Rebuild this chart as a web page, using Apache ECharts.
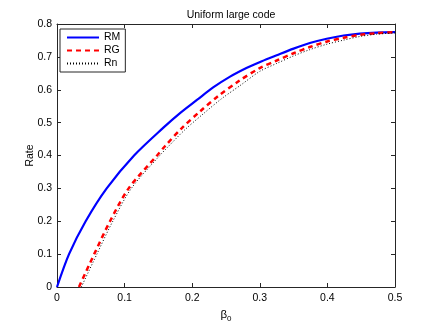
<!DOCTYPE html>
<html>
<head>
<meta charset="utf-8">
<script src="https://cdn.jsdelivr.net/npm/echarts@6/dist/echarts.min.js"></script>
<style>
  html, body { margin: 0; padding: 0; background: #fff; }
  #chart { width: 436px; height: 328px; }
</style>
</head>
<body>
<div id="chart"></div>
<script>
// values
const xTicks = [0, 0.1, 0.2, 0.3, 0.4, 0.5];
const yTicks = [0, 0.1, 0.2, 0.3, 0.4, 0.5, 0.6, 0.7, 0.8];

const betaRM = [0, 0.0178, 0.0424, 0.0735, 0.114, 0.157, 0.182, 0.207, 0.231, 0.256, 0.281, 0.303, 0.325, 0.35, 0.374, 0.399, 0.424, 0.448, 0.473, 0.5];
const rateRM = [0, 0.1, 0.2, 0.3, 0.4, 0.484, 0.529, 0.569, 0.607, 0.640, 0.667, 0.687, 0.705, 0.725, 0.742, 0.755, 0.765, 0.771, 0.774, 0.775];

const betaRG = [0.0325, 0.055, 0.0784, 0.106, 0.148, 0.160, 0.184, 0.2115, 0.238, 0.268, 0.300, 0.325, 0.35, 0.374, 0.4, 0.424, 0.448, 0.473, 0.5];
const rateRG = [0, 0.1, 0.2, 0.3, 0.4, 0.429, 0.482, 0.534, 0.580, 0.625, 0.666, 0.689, 0.711, 0.730, 0.747, 0.758, 0.767, 0.772, 0.775];

const betaRn = [0.036, 0.059, 0.0825, 0.110, 0.152, 0.165, 0.189, 0.2165, 0.243, 0.273, 0.300, 0.325, 0.35, 0.374, 0.4, 0.424, 0.448, 0.473, 0.5];
const rateRn = [0, 0.1, 0.2, 0.3, 0.4, 0.428, 0.478, 0.527, 0.572, 0.616, 0.656, 0.680, 0.703, 0.722, 0.739, 0.751, 0.762, 0.769, 0.773];

const names = ['RM', 'RG', 'Rn'];

function pairs(xs, ys) {
  return xs.map((x, i) => [x, ys[i]]);
}

const chart = echarts.init(document.getElementById('chart'));
const fontName = 'Liberation Sans';
const frame = '#262626';
const fs = 10.5;

const baseAxis = {
  type: 'value',
  axisLine: { show: true, onZero: false, lineStyle: { color: frame, width: 1 } },
  axisTick: { show: true, inside: true, length: 4, lineStyle: { color: frame } },
  splitLine: { show: false },
};

chart.setOption({
  animation: false,
  backgroundColor: '#fff',
  textStyle: { fontFamily: fontName },
  title: {
    text: 'Uniform large code',
    left: 226, top: 5, textAlign: 'center',
    textStyle: { fontSize: fs, fontWeight: 'normal', color: '#000', fontFamily: fontName }
  },
  grid: { left: 57, right: 41, top: 24, bottom: 37, containLabel: false },
  legend: {
    data: names,
    orient: 'vertical',
    left: 60, top: 29,
    padding: [3, 5, 3, 6],
    itemGap: 2,
    itemWidth: 32,
    itemHeight: 10,
    backgroundColor: '#fff',
    borderColor: frame,
    borderWidth: 1,
    itemStyle: { opacity: 0, borderWidth: 0 },
    textStyle: { fontSize: fs, color: '#000', fontFamily: fontName }
  },
  xAxis: [
    Object.assign({}, baseAxis, {
      min: xTicks[0], max: xTicks[xTicks.length - 1], interval: 0.1,
      position: 'bottom',
      axisLabel: { color: '#000', fontSize: fs, margin: 6, fontFamily: fontName },
      name: '{b|β}{s|0}',
      nameLocation: 'middle', nameGap: 20, nameMoveOverlap: false,
      nameTextStyle: {
        rich: {
          b: { fontSize: 11.5, color: '#000', fontFamily: fontName },
          s: { fontSize: 8, color: '#000', fontFamily: fontName, verticalAlign: 'bottom', padding: [8, 0, 0, 0] }
        }
      }
    }),
    Object.assign({}, baseAxis, {
      min: 0, max: 0.5, interval: 0.1, position: 'top',
      axisLabel: { show: false }
    })
  ],
  yAxis: [
    Object.assign({}, baseAxis, {
      min: yTicks[0], max: yTicks[yTicks.length - 1], interval: 0.1,
      position: 'left',
      axisLabel: { color: '#000', fontSize: fs, margin: 5, fontFamily: fontName },
      name: 'Rate', nameLocation: 'middle', nameGap: 21, nameRotate: 90, nameMoveOverlap: false,
      nameTextStyle: { fontSize: fs, color: '#000', fontFamily: fontName }
    }),
    Object.assign({}, baseAxis, {
      min: 0, max: 0.8, interval: 0.1, position: 'right',
      axisLabel: { show: false }
    })
  ],
  series: [
    {
      name: names[0], type: 'line', showSymbol: false, symbol: 'none',
      smooth: 0.3,
      lineStyle: { color: '#0000ff', width: 2.2, type: 'solid' },
      itemStyle: { color: '#0000ff' },
      data: pairs(betaRM, rateRM)
    },
    {
      name: names[1], type: 'line', showSymbol: false, symbol: 'none',
      smooth: 0.3,
      lineStyle: { color: '#ff0000', width: 2.5, type: [5, 4] },
      itemStyle: { color: '#ff0000' },
      data: pairs(betaRG, rateRG)
    },
    {
      name: names[2], type: 'line', showSymbol: false, symbol: 'none',
      smooth: 0.3,
      lineStyle: { color: '#000', width: 1, type: [1, 2] },
      itemStyle: { color: '#000' },
      data: pairs(betaRn, rateRn)
    }
  ]
});
</script>
</body>
</html>
